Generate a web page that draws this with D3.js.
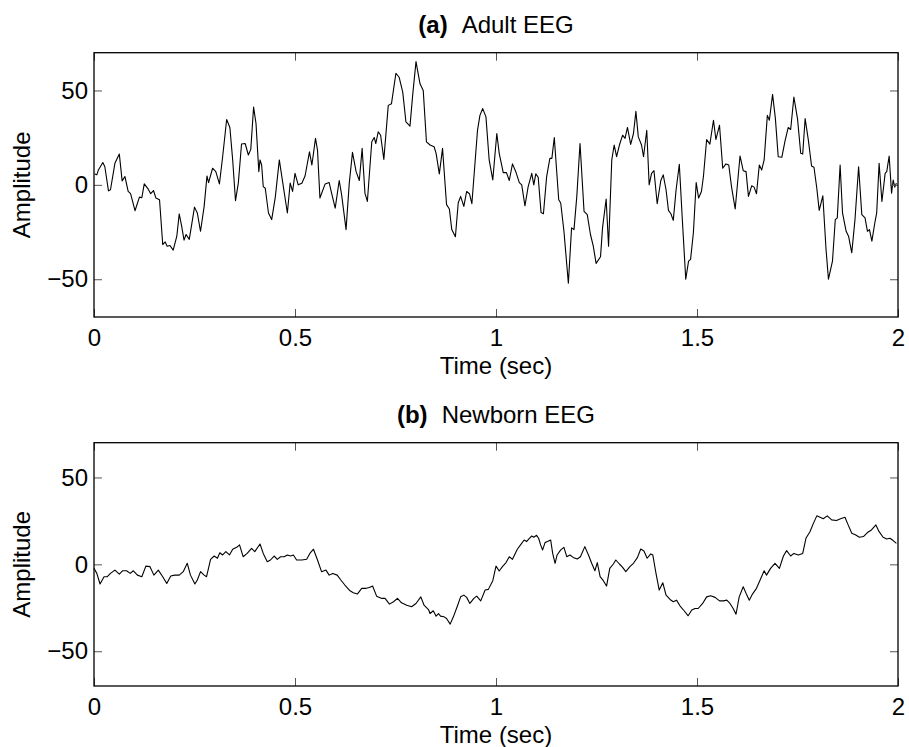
<!DOCTYPE html>
<html>
<head>
<meta charset="utf-8">
<script src="https://cdn.jsdelivr.net/npm/d3@7"></script>
<style>
  body { margin: 0; background: #fff; }
  svg text { font-family: "Liberation Sans", Arial, Helvetica, sans-serif; fill: #000; }
</style>
</head>
<body>
<div id="chart"></div>
<script>
// time (sec) and amplitude
var adultT = [0.002,0.007,0.011,0.022,0.027,0.036,0.041,0.052,0.063,0.070,0.077,0.085,0.091,0.102,0.113,0.119,0.125,0.135,0.141,0.148,0.154,0.163,0.171,0.177,0.182,0.189,0.197,0.206,0.212,0.218,0.224,0.229,0.237,0.250,0.257,0.265,0.274,0.281,0.285,0.295,0.303,0.312,0.320,0.330,0.338,0.345,0.352,0.359,0.367,0.376,0.384,0.390,0.397,0.403,0.410,0.413,0.417,0.421,0.426,0.434,0.442,0.451,0.461,0.471,0.481,0.488,0.494,0.500,0.508,0.517,0.525,0.536,0.542,0.551,0.556,0.562,0.575,0.585,0.591,0.600,0.610,0.616,0.627,0.635,0.643,0.652,0.660,
  0.667,0.674,0.680,0.691,0.697,0.701,0.707,0.713,0.721,0.732,0.740,0.751,0.759,0.768,0.776,0.786,0.793,0.801,0.811,0.819,0.827,0.836,0.846,0.851,0.859,0.867,0.877,0.884,0.890,0.899,0.906,0.912,0.920,0.927,0.934,0.940,0.954,0.960,0.967,0.975,0.983,0.992,1.002,1.008,1.018,1.026,1.033,1.041,1.050,1.058,1.064,1.072,1.080,1.089,1.094,1.099,1.105,1.112,1.118,1.126,1.134,1.139,1.145,1.156,1.161,1.169,1.180,1.188,1.194,1.201,1.209,1.219,1.227,1.235,1.242,1.249,1.260,1.265,1.274,1.280,1.288,1.294,1.300,1.307,1.315,1.321,1.327,
  1.335,1.342,1.348,1.354,1.362,1.367,1.375,1.381,1.387,1.393,1.401,1.410,1.416,1.423,1.429,1.435,1.441,1.448,1.456,1.464,1.472,1.479,1.484,1.491,1.498,1.504,1.511,1.516,1.524,1.532,1.541,1.547,1.556,1.564,1.572,1.579,1.586,1.595,1.607,1.615,1.622,1.628,1.636,1.642,1.648,1.655,1.661,1.667,1.675,1.680,1.688,1.695,1.702,1.711,1.719,1.727,1.733,1.741,1.750,1.758,1.763,1.769,1.777,1.785,1.791,1.798,1.804,1.813,1.821,1.827,1.837,1.844,1.849,1.856,1.862,1.871,1.877,1.885,1.893,1.902,1.910,1.918,1.924,1.929,1.935,1.943,1.947,1.953,1.960,1.968,1.972,1.978,1.984,1.988,1.992,1.996];
var adultV = [5.8,5.3,7.9,11.8,9.6,-3.2,-2.6,11.4,16.3,2.1,4.4,-3.5,-4.7,-13.7,-6.5,-6.8,0.5,-2.3,-4.7,-3.0,-7.0,-7.9,-31.6,-30.2,-32.5,-32.1,-34.6,-27.2,-15.4,-21.9,-29.3,-26.3,-28.9,-11.8,-14.9,-24.6,-11.4,4.7,1.2,8.8,7.0,0.5,14.9,34.6,30.4,13.2,-8.4,0.9,21.6,21.9,15.8,18.8,41.2,32.5,7.0,13.2,10.5,-0.9,-1.8,-14.9,-18.4,-6.5,13.2,-0.9,-14.9,0.9,-3.5,6.1,0.0,0.9,4.7,17.5,10.5,24.6,18.4,-7.0,0.5,1.2,-4.4,-12.3,2.3,-5.3,-23.7,0.9,17.2,7.0,2.3,
  19.3,-4.4,-8.8,22.8,25.1,21.9,28.1,26.3,13.5,42.1,43.0,59.1,57.0,49.1,33.3,31.1,48.2,65.3,53.5,50.0,22.8,21.1,20.2,16.7,5.8,19.3,-10.5,-12.8,-23.7,-27.5,-9.6,-6.1,-11.4,-3.5,-4.7,-10.0,28.9,36.8,40.4,36.0,13.2,2.6,27.2,16.7,6.5,6.5,2.3,11.1,6.5,1.2,0.0,-11.1,-0.9,6.1,0.0,5.8,4.0,-14.6,-15.3,4.4,14.0,14.0,25.1,-7.9,-9.6,-24.6,-52.1,-22.8,-23.7,-6.1,21.9,-14.0,-15.8,-26.3,-32.5,-41.6,-38.1,-22.8,-7.5,-32.5,13.2,21.1,14.9,21.1,26.3,24.6,30.4,
  21.4,27.2,38.9,25.4,21.1,14.9,28.9,0.0,6.1,7.5,-10.0,2.3,5.3,-2.6,-13.5,-15.3,-18.8,-2.6,10.9,-20.2,-50.0,-40.4,-39.5,-25.4,1.2,-7.0,-3.5,4.4,24.0,21.6,34.2,24.0,31.6,8.8,11.1,10.5,-1.2,-12.8,15.3,7.5,7.0,-6.1,-0.5,-1.2,-4.7,10.5,7.9,13.2,36.8,34.2,47.9,35.1,14.9,14.6,23.3,30.4,29.3,46.5,35.1,16.7,16.3,35.1,23.7,10.0,9.3,-1.8,-13.5,-5.8,-34.2,-50.0,-40.4,-18.4,-17.5,10.5,-14.9,-24.6,-27.2,-36.0,-18.4,9.6,-15.8,-17.5,-24.6,-23.7,-29.8,-19.3,-14.9,11.4,-8.8,6.1,7.0,15.3,-4.4,2.6,-1.2,0.9];

var newbornT = [0.000,0.007,0.015,0.025,0.033,0.041,0.052,0.063,0.071,0.081,0.090,0.098,0.108,0.119,0.129,0.139,0.149,0.160,0.171,0.181,0.191,0.201,0.212,0.222,0.232,0.240,0.251,0.257,0.265,0.274,0.280,0.290,0.299,0.307,0.313,0.320,0.328,0.337,0.345,0.355,0.362,0.371,0.381,0.392,0.400,0.413,0.421,0.431,0.439,0.448,0.456,0.464,0.473,0.481,0.489,0.496,0.504,0.517,0.529,0.537,0.546,0.556,0.566,0.577,0.585,0.594,0.605,0.614,0.624,0.637,0.645,0.655,
  0.666,0.677,0.685,0.693,0.703,0.716,0.724,0.735,0.745,0.755,0.765,0.778,0.790,0.801,0.813,0.821,0.832,0.836,0.844,0.851,0.857,0.862,0.871,0.877,0.886,0.894,0.904,0.912,0.920,0.927,0.935,0.945,0.952,0.962,0.973,0.981,0.992,1.000,1.008,1.016,1.025,1.033,1.041,1.053,1.061,1.070,1.076,1.083,1.089,1.094,1.101,1.106,1.111,1.116,1.122,1.128,1.136,1.141,1.147,1.152,1.161,1.169,1.176,1.184,1.192,1.202,1.210,1.221,1.230,1.238,1.246,1.252,1.259,1.267,1.275,1.283,1.292,1.298,1.307,1.315,1.323,1.333,
  1.342,1.352,1.360,1.368,1.376,1.385,1.390,1.398,1.406,1.415,1.423,1.433,1.441,1.449,1.458,1.468,1.478,1.487,1.495,1.503,1.514,1.524,1.534,1.545,1.556,1.566,1.574,1.582,1.590,1.597,1.605,1.615,1.624,1.630,1.638,1.648,1.657,1.667,1.673,1.683,1.694,1.705,1.715,1.723,1.733,1.741,1.752,1.763,1.771,1.781,1.789,1.798,1.806,1.814,1.824,1.835,1.847,1.857,1.868,1.876,1.885,1.895,1.904,1.914,1.924,1.934,1.945,1.953,1.963,1.972,1.980,1.988,1.996];
var newbornV = [-2.3,-5.2,-11.3,-7.1,-7.1,-5.2,-3.3,-5.6,-3.7,-3.7,-5.2,-3.7,-6.2,-7.1,-1.0,-1.3,-6.2,-3.3,-7.1,-11.0,-6.7,-6.2,-6.2,-4.2,0.6,-6.2,-11.3,-9.0,-4.2,-6.2,-7.1,2.9,4.8,3.5,6.7,5.4,7.3,5.4,8.7,9.8,11.2,4.4,6.3,9.2,7.3,11.7,6.3,1.5,2.5,4.8,2.9,4.4,4.4,5.4,4.8,5.4,2.5,2.5,2.9,6.3,8.7,2.5,-4.2,-3.3,-6.2,-5.2,-6.2,-9.0,-11.9,-15.2,-16.3,-17.1,
  -13.8,-13.8,-13.3,-12.5,-18.3,-19.6,-19.6,-22.9,-21.5,-19.6,-22.1,-23.5,-24.4,-22.5,-18.7,-23.5,-26.0,-28.3,-26.7,-29.8,-28.3,-29.8,-30.2,-31.2,-34.4,-30.2,-24.0,-18.7,-17.7,-19.0,-22.5,-19.6,-18.3,-21.0,-14.8,-14.4,-9.4,-1.0,-3.8,-1.3,1.0,4.4,2.9,8.7,11.2,14.0,13.1,15.0,16.3,15.6,16.7,15.0,11.2,8.3,12.5,13.1,14.0,6.3,0.6,5.4,8.3,9.8,4.4,5.4,4.0,3.1,4.4,10.2,5.4,0.6,-3.7,1.0,-7.1,-9.4,-12.5,-2.3,0.2,2.5,0.2,-1.7,-4.2,-1.3,
  0.6,4.0,8.8,7.7,3.5,6.0,5.4,-5.2,-14.8,-10.6,-17.7,-20.2,-21.5,-20.6,-24.0,-26.7,-29.6,-26.3,-25.4,-25.4,-22.5,-18.7,-18.1,-19.0,-21.0,-21.0,-20.6,-22.5,-25.4,-28.7,-18.7,-12.9,-17.7,-20.6,-17.1,-13.8,-9.0,-3.7,-6.2,-2.3,0.6,-2.3,4.8,7.9,4.8,6.3,5.4,6.3,15.0,18.8,23.3,27.9,27.1,26.2,27.9,25.6,25.2,26.2,27.1,22.7,17.9,16.9,15.6,16.0,18.3,19.8,22.7,18.8,15.6,14.6,15.0,13.7,12.1];

var xTicks = [0, 0.5, 1, 1.5, 2];
var xTickLabels = ["0", "0.5", "1", "1.5", "2"];
var yTicks = [-50, 0, 50];
var yTickLabels = ["\u221250", "0", "50"];
var titles = [["(a)", "Adult EEG"], ["(b)", "Newborn EEG"]];

var width = 909, height = 747;
var left = 94, right = 898;
var panels = [
  { top: 52.7, bottom: 317, t: adultT, v: adultV, title: titles[0] },
  { top: 442.7, bottom: 686, t: newbornT, v: newbornV, title: titles[1] }
];

var svg = d3.select("#chart")
  .append("svg")
  .attr("width", width)
  .attr("height", height);

var x = d3.scaleLinear().domain([0, 2]).range([left, right]);

panels.forEach(function(p) {
  var y = d3.scaleLinear().domain([-70, 70]).range([p.bottom, p.top]);
  var g = svg.append("g");

  var line = d3.line()
    .x(function(d) { return x(d[0]); })
    .y(function(d) { return y(d[1]); });

  g.append("path")
    .datum(d3.zip(p.t, p.v))
    .attr("d", line)
    .attr("fill", "none")
    .attr("stroke", "#000")
    .attr("stroke-width", 1.1)
    .attr("stroke-linejoin", "round");

  var fmtX = function(d, i) { return xTickLabels[i]; };
  var fmtY = function(d, i) { return yTickLabels[i]; };

  var axB = g.append("g").attr("transform", "translate(0," + p.bottom + ")")
    .call(d3.axisBottom(x).tickValues(xTicks).tickFormat(fmtX).tickSize(-8).tickPadding(12));
  var axT = g.append("g").attr("transform", "translate(0," + p.top + ")")
    .call(d3.axisTop(x).tickValues(xTicks).tickFormat("").tickSize(-8));
  var axL = g.append("g").attr("transform", "translate(" + left + ",0)")
    .call(d3.axisLeft(y).tickValues(yTicks).tickFormat(fmtY).tickSize(-8).tickPadding(6));
  var axR = g.append("g").attr("transform", "translate(" + right + ",0)")
    .call(d3.axisRight(y).tickValues(yTicks).tickFormat("").tickSize(-8));

  [axB, axT, axL, axR].forEach(function(a) {
    a.select(".domain").remove();
    a.selectAll("line").attr("stroke", "#555").attr("stroke-width", 1);
    a.selectAll("text").attr("font-size", 24).attr("font-family", null).attr("fill", "#000");
  });

  g.append("rect")
    .attr("x", left).attr("y", p.top)
    .attr("width", right - left).attr("height", p.bottom - p.top)
    .attr("fill", "none").attr("stroke", "#000").attr("stroke-width", 1.3);

  // title
  var tt = g.append("text")
    .attr("x", (left + right) / 2)
    .attr("y", p.top - 20)
    .attr("text-anchor", "middle")
    .attr("font-size", 24);
  tt.append("tspan").attr("font-weight", "bold").text(p.title[0]);
  tt.append("tspan").attr("dx", 14).text(p.title[1]);

  g.append("text")
    .attr("x", (left + right) / 2)
    .attr("y", p.bottom + 57)
    .attr("text-anchor", "middle")
    .attr("font-size", 24)
    .text("Time (sec)");

  g.append("text")
    .attr("transform", "translate(30," + (p.top + p.bottom) / 2 + ") rotate(-90)")
    .attr("text-anchor", "middle")
    .attr("font-size", 24)
    .text("Amplitude");
});
</script>
</body>
</html>
